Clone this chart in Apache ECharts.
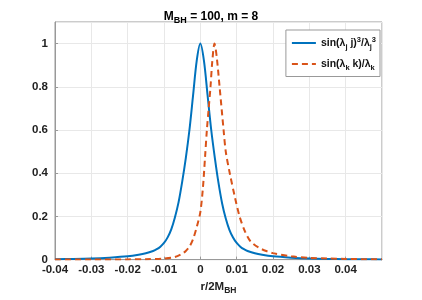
<!DOCTYPE html>
<html><head><meta charset="utf-8">
<script src="https://cdn.jsdelivr.net/npm/echarts@6/dist/echarts.min.js"></script>
<style>html,body{margin:0;padding:0;background:#fff}#c{width:422px;height:300px}</style>
</head><body><div id="c"></div>
<script>
// Blue curve: sin(λj j)^3/λj^3 (x, y)
const blueX = [-0.04,-0.035,-0.03,-0.025,-0.02,-0.017,-0.015,-0.013,-0.012,-0.011,-0.01,-0.009,-0.008,-0.007,-0.006,-0.005,-0.004,-0.003,-0.002,-0.001,0,
  0.001,0.002,0.003,0.004,0.005,0.006,0.007,0.008,0.009,0.01,0.011,0.012,0.013,0.015,0.017,0.02,0.025,0.03,0.035,0.04,0.045,0.05];
const blueY = [0.002,0.003,0.005,0.009,0.015,0.022,0.029,0.04,0.048,0.06,0.077,0.103,0.14,0.195,0.265,0.36,0.47,0.6,0.76,0.92,1.0,
  0.92,0.76,0.6,0.47,0.355,0.26,0.19,0.138,0.102,0.077,0.06,0.048,0.04,0.029,0.022,0.015,0.009,0.005,0.003,0.002,0.0015,0.001];
// Orange curve: sin(λk k)/λk (x, y)
const orangeX = [-0.04,-0.03,-0.02,-0.015,-0.01,-0.007,-0.005,-0.004,-0.003,-0.002,-0.001,0,0.0007,0.0013,0.0018,0.0023,0.0028,0.0033,0.0039,0.0045,0.0053,0.0064,0.007,0.0081,0.0095,0.0108,0.0123,0.0138,0.016,0.0184,0.02,0.025,0.03,0.035,0.04,0.05];
const orangeY = [0,0.0005,0.001,0.002,0.005,0.012,0.027,0.04,0.06,0.095,0.15,0.22,0.33,0.475,0.6,0.7,0.8,0.92,1.0,0.94,0.8,0.6,0.5,0.4,0.29,0.2,0.13,0.085,0.056,0.038,0.03,0.015,0.008,0.005,0.003,0.001];
const seriesNames = ['blue', 'orange'];
const xTicks = [-0.04,-0.03,-0.02,-0.01,0,0.01,0.02,0.03,0.04];
const yTicks = [0,0.2,0.4,0.6,0.8,1];

const FONT = 'Liberation Sans';
const rich = {
  n: {fontFamily: FONT, fontWeight: 'bold', fontSize: 10.5, color: '#111'},
  sub: {fontFamily: FONT, fontWeight: 'bold', fontSize: 7.5, color: '#111', padding: [7, 0, 0, 0]},
  sup: {fontFamily: FONT, fontWeight: 'bold', fontSize: 7.5, color: '#111', padding: [0, 0, 6, 0]}
};
const chart = echarts.init(document.getElementById('c'), null, {renderer: 'canvas'});
chart.setOption({
  animation: false,
  backgroundColor: '#fff',
  title: {
    text: '{b|M}{s|BH}{b| = 100, m = 8}',
    left: 'center', top: 3,
    textStyle: {rich: {
      b: {fontFamily: FONT, fontWeight: 'bold', fontSize: 12, color: '#000'},
      s: {fontFamily: FONT, fontWeight: 'bold', fontSize: 9, color: '#000', padding: [8, 0, 0, 0]}
    }}
  },
  grid: {left: 55, right: 40, top: 22, bottom: 35, show: true, borderColor: '#999', borderWidth: 1},
  legend: {
    right: 42, top: 30, orient: 'vertical',
    backgroundColor: '#fff', borderColor: '#999', borderWidth: 1,
    padding: [6, 4, 5, 5], itemGap: 8, itemWidth: 24, itemHeight: 10,
    itemStyle: {opacity: 0},
    data: seriesNames,
    formatter: function (name) {
      if (name === 'blue') return '{n|sin(λ}{sub|j}{n| j)}{sup|3}{n|/λ}{sub|j}{sup|3}';
      return '{n|sin(λ}{sub|k}{n| k)/λ}{sub|k}';
    },
    textStyle: {rich: rich}
  },
  xAxis: {
    type: 'value', min: -0.04, max: 0.05, interval: 0.01,
    name: '{n|r/2M}{s|BH}', nameLocation: 'middle', nameGap: 16,
    nameTextStyle: {rich: {
      n: {fontFamily: FONT, fontWeight: 'bold', fontSize: 11.5, color: '#222'},
      s: {fontFamily: FONT, fontWeight: 'bold', fontSize: 8.5, color: '#222', padding: [8, 0, 0, 0]}
    }},
    axisLine: {onZero: false, lineStyle: {color: '#999'}},
    axisTick: {inside: true, length: 3, lineStyle: {color: '#999'}},
    axisLabel: {
      showMaxLabel: false, margin: 4,
      fontFamily: FONT, fontWeight: 'bold', fontSize: 11.5, color: '#222',
      formatter: v => { const r = Math.round(v * 100) / 100; return xTicks.includes(r) ? String(r) : ''; }
    },
    splitLine: {show: true, lineStyle: {color: '#e8e8e8'}}
  },
  yAxis: {
    type: 'value', min: 0, max: 1.1, interval: 0.2,
    axisLine: {show: true, onZero: false, lineStyle: {color: '#999'}},
    axisTick: {show: true, inside: true, length: 3, lineStyle: {color: '#999'}},
    axisLabel: {
      showMaxLabel: false, margin: 7,
      fontFamily: FONT, fontWeight: 'bold', fontSize: 11.5, color: '#222',
      formatter: v => { const r = Math.round(v * 10) / 10; return yTicks.includes(r) ? String(r) : ''; }
    },
    splitLine: {show: true, lineStyle: {color: '#e8e8e8'}}
  },
  series: [
    {name: 'blue', type: 'line', symbol: 'none', smooth: 0.3,
     data: blueX.map((x, i) => [x, blueY[i]]),
     lineStyle: {color: '#0072BD', width: 2}, itemStyle: {color: '#0072BD'}},
    {name: 'orange', type: 'line', symbol: 'none', smooth: 0.3,
     data: orangeX.map((x, i) => [x, orangeY[i]]),
     lineStyle: {color: '#D95319', width: 2, type: [6, 4]}, itemStyle: {color: '#D95319'}}
  ]
});
</script></body></html>
